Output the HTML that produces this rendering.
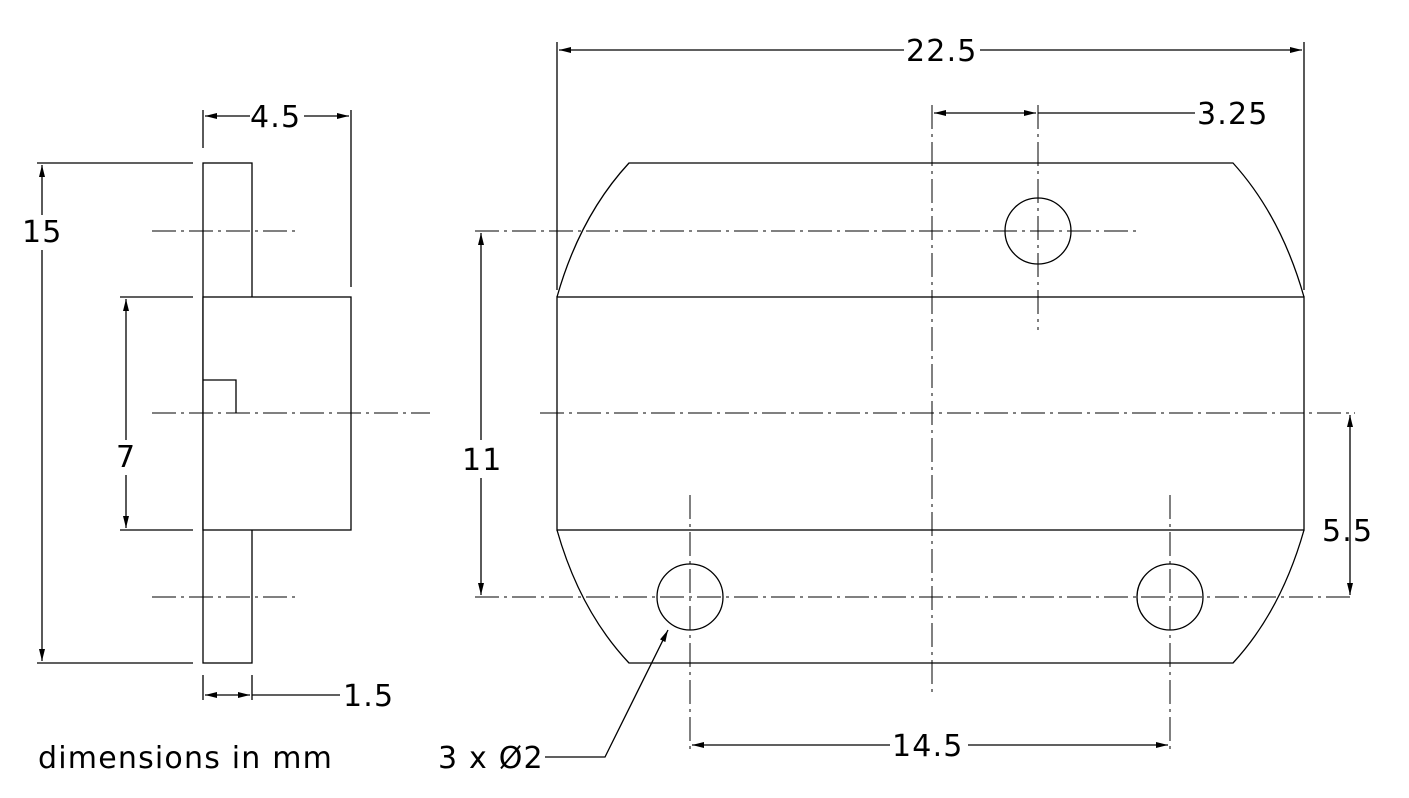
<!DOCTYPE html>
<html><head><meta charset="utf-8"><style>
html,body{margin:0;padding:0;background:#fff;}
svg{display:block;}
text{font-family:"DejaVu Sans","Liberation Sans",sans-serif;font-size:30px;letter-spacing:1.2px;fill:#000;}
</style></head><body>
<svg width="1409" height="798" viewBox="0 0 1409 798" xmlns="http://www.w3.org/2000/svg">
<defs>
<marker id="a" viewBox="0 0 12 6" refX="12" refY="3" markerWidth="12" markerHeight="6" orient="auto-start-reverse" markerUnits="userSpaceOnUse"><path d="M0,0 L12,3 L0,6 Z" fill="#000"/></marker>
</defs>
<g stroke="#000" stroke-width="1.3" fill="none">
<rect x="203" y="163" width="49" height="500"/>
<rect x="203" y="297" width="148" height="233" fill="#fff"/>
<path d="M203,380 H236 V413"/>
<g stroke-dasharray="24,5,3,5" stroke-width="1">
<line x1="152" y1="231" x2="300" y2="231"/>
<line x1="152" y1="413" x2="430" y2="413"/>
<line x1="152" y1="597" x2="300" y2="597"/>
<line x1="475" y1="231" x2="1140" y2="231"/>
<line x1="540" y1="413" x2="1355" y2="413"/>
<line x1="475" y1="597" x2="1355" y2="597"/>
<line x1="932" y1="105" x2="932" y2="695"/>
<line x1="1038" y1="105" x2="1038" y2="330"/>
<line x1="690" y1="495" x2="690" y2="750"/>
<line x1="1170" y1="495" x2="1170" y2="750"/>
</g>
<line x1="37" y1="163" x2="193" y2="163"/>
<line x1="37" y1="663" x2="193" y2="663"/>
<line x1="42" y1="165" x2="42" y2="215" marker-start="url(#a)"/>
<line x1="42" y1="250" x2="42" y2="661" marker-end="url(#a)"/>
<line x1="120" y1="297" x2="193" y2="297"/>
<line x1="120" y1="530" x2="193" y2="530"/>
<line x1="126" y1="299" x2="126" y2="440" marker-start="url(#a)"/>
<line x1="126" y1="475" x2="126" y2="528" marker-end="url(#a)"/>
<line x1="203" y1="110" x2="203" y2="148"/>
<line x1="351" y1="110" x2="351" y2="287"/>
<line x1="205" y1="116" x2="250" y2="116" marker-start="url(#a)"/>
<line x1="304" y1="116" x2="349" y2="116" marker-end="url(#a)"/>
<line x1="203" y1="675" x2="203" y2="700"/>
<line x1="252" y1="675" x2="252" y2="700"/>
<line x1="205" y1="695" x2="250" y2="695" marker-start="url(#a)" marker-end="url(#a)"/>
<line x1="252" y1="695" x2="340" y2="695"/>
<rect x="557" y="297" width="747" height="233"/>
<path d="M557,297 Q580,216 629,163 H1233 Q1281,216 1304,297"/>
<path d="M557,530 Q580,611 629,663 H1233 Q1281,611 1304,530"/>
<circle cx="1038" cy="231" r="33"/>
<circle cx="690" cy="597" r="33"/>
<circle cx="1170" cy="597" r="33"/>
<line x1="557" y1="42" x2="557" y2="290"/>
<line x1="1304" y1="42" x2="1304" y2="290"/>
<line x1="559" y1="50" x2="904" y2="50" marker-start="url(#a)"/>
<line x1="980" y1="50" x2="1302" y2="50" marker-end="url(#a)"/>
<line x1="934" y1="113" x2="1036" y2="113" marker-start="url(#a)" marker-end="url(#a)"/>
<line x1="1038" y1="113" x2="1195" y2="113"/>
<line x1="481" y1="233" x2="481" y2="440" marker-start="url(#a)"/>
<line x1="481" y1="478" x2="481" y2="595" marker-end="url(#a)"/>
<line x1="1350" y1="415" x2="1350" y2="595" marker-start="url(#a)" marker-end="url(#a)"/>
<line x1="692" y1="745" x2="890" y2="745" marker-start="url(#a)"/>
<line x1="968" y1="745" x2="1168" y2="745" marker-end="url(#a)"/>
<path d="M545,757 H605 L668,630" marker-end="url(#a)"/>
</g>
<text x="22" y="242">15</text>
<text x="116" y="467">7</text>
<text x="250" y="127">4.5</text>
<text x="343" y="706">1.5</text>
<text x="38" y="768">dimensions in mm</text>
<text x="906" y="61">22.5</text>
<text x="1197" y="124">3.25</text>
<text x="462" y="470">11</text>
<text x="1322" y="541">5.5</text>
<text x="892" y="756">14.5</text>
<text x="438" y="768">3 x Ø2</text>
</svg>
</body></html>
